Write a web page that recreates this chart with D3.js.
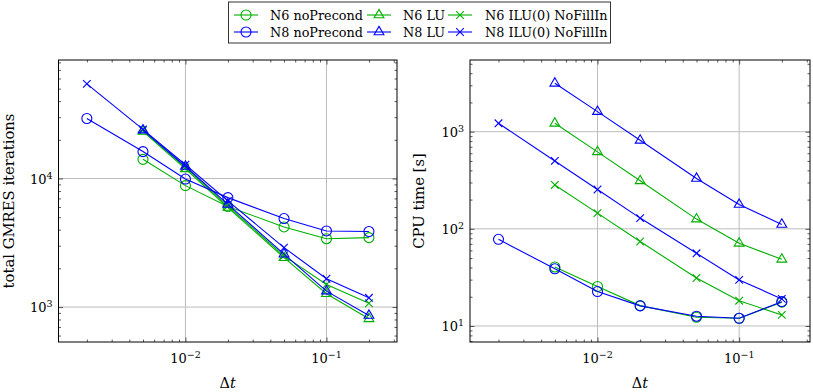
<!DOCTYPE html>
<html><head><meta charset="utf-8">
<script src="https://cdn.jsdelivr.net/npm/d3@7"></script>
<style>body{margin:0;background:#fff} text{font-family:"DejaVu Serif",serif;fill:#000}</style>
</head><body><svg id="c" width="813" height="392"></svg>
<script>
// ---- data ----
const dt = [0.002, 0.005, 0.01, 0.02, 0.05, 0.1, 0.2];
const seriesNames = ["N6 noPrecond", "N6 LU", "N6 ILU(0) NoFillIn", "N8 noPrecond", "N8 LU", "N8 ILU(0) NoFillIn"];
const seriesColors = ["green", "green", "green", "blue", "blue", "blue"];
const seriesMarks = ["circle", "triangle", "x", "circle", "triangle", "x"];
// total GMRES iterations
const iterN6noP = [null, 14100, 8800, 6050, 4200, 3400, 3470];
const iterN6LU  = [null, 23300, 11900, 5950, 2420, 1270, 810];
const iterN6ILU = [null, 23700, 12200, 6100, 2500, 1500, 1070];
const iterN8noP = [29300, 16200, 9900, 7100, 4880, 3910, 3870];
const iterN8LU  = [null, 23800, 12400, 6300, 2580, 1330, 860];
const iterN8ILU = [54500, 24100, 12800, 6700, 2900, 1660, 1180];
// CPU time [s]
const cpuN6noP = [null, 40.5, 25.5, 16.2, 12.3, 12.0, 17.6];
const cpuN6LU  = [null, 1220, 620, 312, 126, 71, 48.5];
const cpuN6ILU = [null, 283, 145, 74, 31.2, 18.2, 13.0];
const cpuN8noP = [78, 38.8, 22.6, 16.1, 12.6, 12.0, 17.8];
const cpuN8LU  = [null, 3150, 1610, 815, 330, 178, 111];
const cpuN8ILU = [1220, 500, 254, 129, 56, 29.8, 19.0];
// ticks
const xMajorTicks = [0.01, 0.1];
const xTickExp = ["−2", "−1"];
const yLeftMajor = [1000, 10000];
const yLeftExp = ["3", "4"];
const yRightMajor = [10, 100, 1000];
const yRightExp = ["1", "2", "3"];

const COLORS = {green: "#00b000", blue: "#0000ff"};
const svg = d3.select("#c");

function minorTicks(domain) {
  const out = [];
  const lo = Math.floor(Math.log10(domain[0])), hi = Math.ceil(Math.log10(domain[1]));
  for (let e = lo; e <= hi; e++) for (let m = 2; m <= 9; m++) {
    const v = m * Math.pow(10, e);
    if (v >= domain[0] && v <= domain[1]) out.push(v);
  }
  return out;
}

function markPath(type) {
  if (type === "triangle") return "M0,-5.6L4.9,2.8L-4.9,2.8Z";
  if (type === "x") return "M-3.8,-3.8L3.8,3.8M-3.8,3.8L3.8,-3.8";
  return null;
}

function drawMark(g, type, color, x, y) {
  if (type === "circle") {
    g.append("circle").attr("cx", x).attr("cy", y).attr("r", 5)
      .attr("fill", "none").attr("stroke", color).attr("stroke-width", 1.1);
  } else {
    g.append("path").attr("d", markPath(type)).attr("transform", `translate(${x},${y})`)
      .attr("fill", "none").attr("stroke", color).attr("stroke-width", 1.1);
  }
}

function panel(opts) {
  const {x0, y0, w, h, yDomain, yMajor, yExp, yLabel, yLabelX, data} = opts;
  const g = svg.append("g");
  const xDomain = [Math.pow(10, -2.9), Math.pow(10, -0.5)];
  const xs = d3.scaleLog().domain(xDomain).range([x0, x0 + w]);
  const ys = d3.scaleLog().domain(yDomain).range([y0 + h, y0]);

  // grid
  g.append("g").selectAll("line").data(xMajorTicks).join("line")
    .attr("x1", d => xs(d)).attr("x2", d => xs(d)).attr("y1", y0).attr("y2", y0 + h)
    .attr("stroke", "#bdbdbd").attr("stroke-width", 1);
  g.append("g").selectAll("line").data(yMajor).join("line")
    .attr("y1", d => ys(d)).attr("y2", d => ys(d)).attr("x1", x0).attr("x2", x0 + w)
    .attr("stroke", "#bdbdbd").attr("stroke-width", 1);

  // ticks (inward, all sides)
  const xMinor = minorTicks(xDomain), yMinor = minorTicks(yDomain);
  const clean = sel => { sel.select(".domain").remove(); sel.selectAll("line").attr("stroke", "#333").attr("stroke-width", 0.8); };
  const axisSet = [
    [() => d3.axisBottom(xs), `translate(0,${y0 + h})`, xMajorTicks, xMinor],
    [() => d3.axisTop(xs), `translate(0,${y0})`, xMajorTicks, xMinor],
    [() => d3.axisLeft(ys), `translate(${x0},0)`, yMajor, yMinor],
    [() => d3.axisRight(ys), `translate(${x0 + w},0)`, yMajor, yMinor],
  ];
  axisSet.forEach(([mk, tr, maj, mino]) => {
    g.append("g").attr("transform", tr).call(mk().tickValues(maj).tickSize(-4.5).tickFormat("")).call(clean);
    g.append("g").attr("transform", tr).call(mk().tickValues(mino).tickSize(-2.5).tickFormat("")).call(clean);
  });

  // frame
  g.append("rect").attr("x", x0).attr("y", y0).attr("width", w).attr("height", h)
    .attr("fill", "none").attr("stroke", "#000").attr("stroke-width", 1);

  // tick labels
  xMajorTicks.forEach((v, i) => {
    const t = g.append("text").attr("x", xs(v)).attr("y", y0 + h + 21).attr("text-anchor", "middle").attr("font-size", 13);
    t.append("tspan").text("10");
    t.append("tspan").attr("dy", -5).attr("font-size", 9.5).text(xTickExp[i]);
  });
  yMajor.forEach((v, i) => {
    const t = g.append("text").attr("x", x0 - 6).attr("y", ys(v) + 5).attr("text-anchor", "end").attr("font-size", 13);
    t.append("tspan").text("10");
    t.append("tspan").attr("dy", -5).attr("font-size", 9.5).text(yExp[i]);
  });

  // axis labels
  const xl = g.append("text").attr("x", x0 + w / 2).attr("y", y0 + h + 46).attr("text-anchor", "middle").attr("font-size", 14.5);
  xl.append("tspan").text("Δ");
  xl.append("tspan").attr("font-style", "italic").text("t");
  g.append("text").attr("transform", `translate(${yLabelX},${y0 + h / 2}) rotate(-90)`)
    .attr("text-anchor", "middle").attr("font-size", 14.8).text(yLabel);

  // series
  const line = d3.line().x(d => xs(d[0])).y(d => ys(d[1]));
  data.forEach((vals, si) => {
    const color = COLORS[seriesColors[si]];
    const pts = dt.map((d, i) => [d, vals[i]]).filter(d => d[1] != null);
    const sg = g.append("g");
    sg.append("path").attr("d", line(pts)).attr("fill", "none").attr("stroke", color).attr("stroke-width", 1.1);
    pts.forEach(p => drawMark(sg, seriesMarks[si], color, xs(p[0]), ys(p[1])));
  });
}

panel({x0: 58.5, y0: 60, w: 338.5, h: 282, yDomain: [Math.pow(10, 2.728), Math.pow(10, 4.922)],
  yMajor: yLeftMajor, yExp: yLeftExp, yLabel: "total GMRES iterations", yLabelX: 14,
  data: [iterN6noP, iterN6LU, iterN6ILU, iterN8noP, iterN8LU, iterN8ILU]});
panel({x0: 470, y0: 60, w: 340, h: 282, yDomain: [Math.pow(10, 0.835), Math.pow(10, 3.738)],
  yMajor: yRightMajor, yExp: yRightExp, yLabel: "CPU time [s]", yLabelX: 424,
  data: [cpuN6noP, cpuN6LU, cpuN6ILU, cpuN8noP, cpuN8LU, cpuN8ILU]});

// legend
const lg = svg.append("g");
lg.append("rect").attr("x", 228.5).attr("y", 2).attr("width", 382).attr("height", 41)
  .attr("fill", "#fff").attr("stroke", "#333").attr("stroke-width", 1);
const colLine = [234, 367, 448];
const colText = [270, 403, 485];
const rowY = [15, 32];
seriesNames.forEach((name, i) => {
  const c = i % 3, r = Math.floor(i / 3);
  const color = COLORS[seriesColors[i]];
  const y = rowY[r];
  lg.append("line").attr("x1", colLine[c]).attr("x2", colLine[c] + 24).attr("y1", y).attr("y2", y)
    .attr("stroke", color).attr("stroke-width", 1.1);
  drawMark(lg, seriesMarks[i], color, colLine[c] + 12, y);
  lg.append("text").attr("x", colText[c]).attr("y", y + 4.5).attr("font-size", 12.8).text(name);
});
</script></body></html>
